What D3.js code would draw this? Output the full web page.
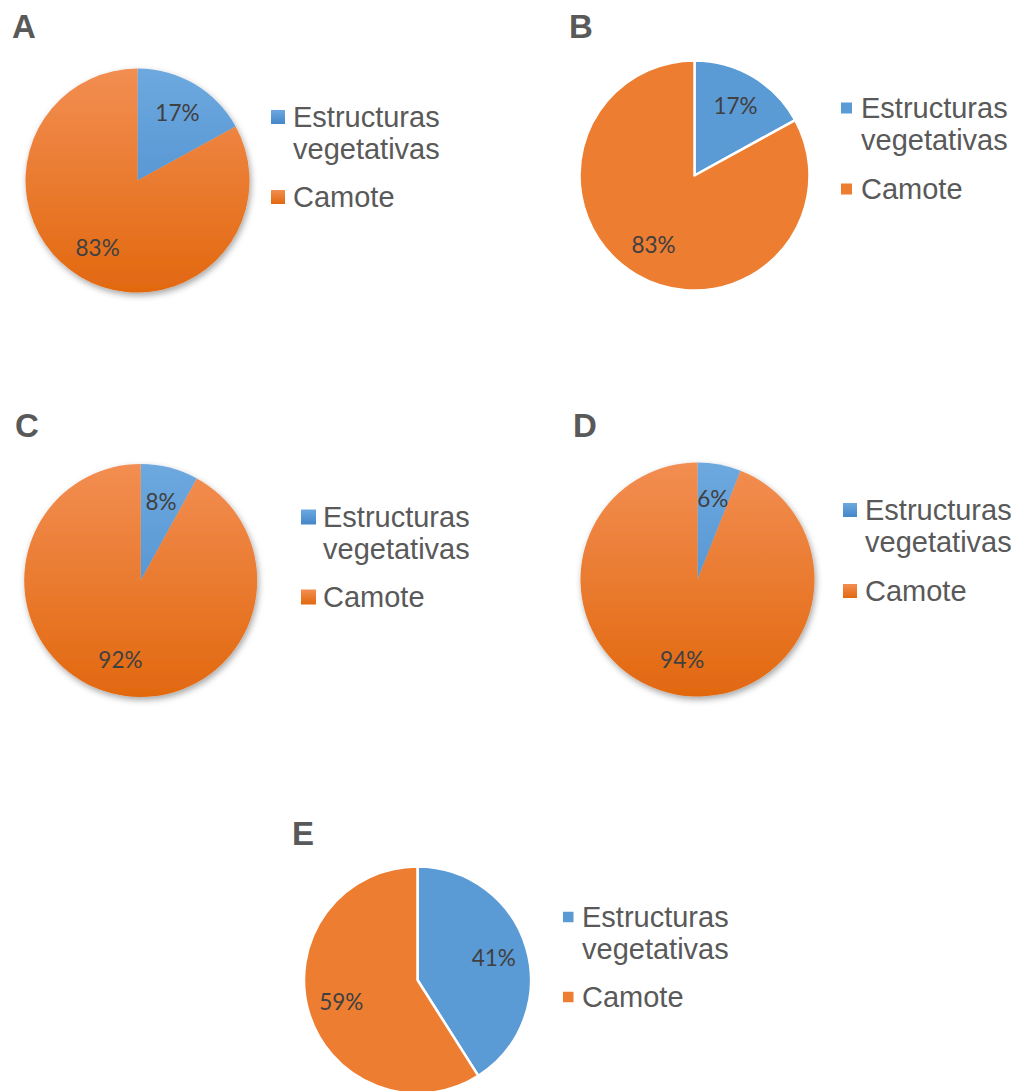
<!DOCTYPE html>
<html>
<head>
<meta charset="utf-8">
<script src="https://cdn.jsdelivr.net/npm/d3@7"></script>
<style>
  html, body { margin: 0; padding: 0; background: #ffffff; }
  svg { display: block; }
</style>
</head>
<body>
<script>
// ---------- data ----------
const panelNames = ["A", "B", "C", "D", "E"];
const categories = ["Estructuras vegetativas", "Camote"];
const valuesA = [17, 83];
const valuesB = [17, 83];
const valuesC = [8, 92];
const valuesD = [6, 94];
const valuesE = [41, 59];
const panelValues = [valuesA, valuesB, valuesC, valuesD, valuesE];

// ---------- layout / style ----------
const W = 1018, H = 1091;
const layout = [
  { letter: [12, 38], cx: 137.5, cy: 180.5, r: 112, gradient: true,
    legX: 271, legTextX: 293, legY: 127, legSq: 14, legGap: 80 },
  { letter: [569, 38], cx: 694.5, cy: 175.5, r: 115, gradient: false,
    legX: 841, legTextX: 861, legY: 118, legSq: 11, legGap: 81 },
  { letter: [15, 437], cx: 140.7, cy: 580.5, r: 116.5, gradient: true,
    legX: 301, legTextX: 323, legY: 527, legSq: 15, legGap: 80 },
  { letter: [573, 437], cx: 697.5, cy: 579.5, r: 117, gradient: true,
    legX: 843, legTextX: 865, legY: 520, legSq: 14, legGap: 81 },
  { letter: [292, 845], cx: 417.5, cy: 980, r: 113.5, gradient: false,
    legX: 563, legTextX: 582, legY: 927, legSq: 10.5, legGap: 80 }
];
const flatColors = ["#5B9BD5", "#ED7D31"];
const gradColors = [["#6DA9DF", "#4586CA"], ["#F28E52", "#E2680F"]];
const textColor = "#595959";
const labelColor = "#404040";

const svg = d3.select("body").append("svg")
  .attr("width", W).attr("height", H)
  .attr("viewBox", `0 0 ${W} ${H}`);

const defs = svg.append("defs");
const shadow = defs.append("filter").attr("id", "shadow")
  .attr("x", "-20%").attr("y", "-20%").attr("width", "140%").attr("height", "140%");
shadow.append("feDropShadow")
  .attr("dx", 1.5).attr("dy", 3).attr("stdDeviation", 3)
  .attr("flood-color", "#000").attr("flood-opacity", 0.35);

// bounding-box gradients for legend swatches
gradColors.forEach((gc, ci) => {
  const lg = defs.append("linearGradient").attr("id", `legGrad-${ci}`)
    .attr("x1", 0).attr("x2", 0).attr("y1", 0).attr("y2", 1);
  lg.append("stop").attr("offset", "0%").attr("stop-color", gc[0]);
  lg.append("stop").attr("offset", "100%").attr("stop-color", gc[1]);
});

const pie = d3.pie().sort(null).value(d => d);
const colorScale = d3.scaleOrdinal().domain(categories).range(flatColors);

panelValues.forEach((vals, pi) => {
  const L = layout[pi];
  const g = svg.append("g");

  // panel letter
  g.append("text")
    .attr("x", L.letter[0]).attr("y", L.letter[1])
    .attr("font-family", "'Liberation Sans', Arial, sans-serif")
    .attr("font-weight", "bold").attr("font-size", 33)
    .attr("fill", textColor)
    .text(panelNames[pi]);

  // gradients (user space of the translated pie group: centred on 0,0)
  const fills = categories.map((c, ci) => {
    if (!L.gradient) return colorScale(c);
    const id = `grad-${pi}-${ci}`;
    const lg = defs.append("linearGradient").attr("id", id)
      .attr("gradientUnits", "userSpaceOnUse")
      .attr("x1", 0).attr("x2", 0)
      .attr("y1", -L.r).attr("y2", L.r);
    lg.append("stop").attr("offset", "0%").attr("stop-color", gradColors[ci][0]);
    lg.append("stop").attr("offset", "100%").attr("stop-color", gradColors[ci][1]);
    return `url(#${id})`;
  });
  const legFills = categories.map((c, ci) =>
    L.gradient ? `url(#legGrad-${ci})` : colorScale(c));

  const arc = d3.arc().innerRadius(0).outerRadius(L.r);
  const labelArc = d3.arc().innerRadius(L.r * 0.7).outerRadius(L.r * 0.7);
  const arcs = pie(vals);
  const total = d3.sum(vals);

  const pg = g.append("g").attr("transform", `translate(${L.cx},${L.cy})`);
  const slices = pg.append("g");
  if (L.gradient) slices.attr("filter", "url(#shadow)");
  slices.selectAll("path").data(arcs).enter().append("path")
    .attr("d", arc)
    .attr("fill", (d, i) => fills[i])
    .attr("stroke", L.gradient ? "none" : "#ffffff")
    .attr("stroke-width", L.gradient ? 0 : 2.5)
    .attr("stroke-linejoin", "round");

  pg.selectAll("text.lbl").data(arcs).enter().append("text")
    .attr("class", "lbl")
    .attr("transform", d => `translate(${labelArc.centroid(d)})`)
    .attr("text-anchor", "middle")
    .attr("dy", "0.36em")
    .attr("font-family", "Lato, 'Open Sans', sans-serif")
    .attr("font-size", 22.5)
    .attr("fill", labelColor)
    .text(d => d3.format(".0%")(d.data / total));

  // legend
  const lineH = 32;
  let y = L.legY;
  categories.forEach((c, ci) => {
    const t = g.append("text")
      .attr("x", L.legTextX).attr("y", y)
      .attr("font-family", "'Liberation Sans', Arial, sans-serif")
      .attr("font-size", 29)
      .attr("fill", textColor);
    // simple word wrap at ~155px
    const words = c.split(" ");
    let line = [];
    let tspan = t.append("tspan").attr("x", L.legTextX).attr("y", y);
    let nLines = 1;
    words.forEach(w => {
      line.push(w);
      tspan.text(line.join(" "));
      if (tspan.node().getComputedTextLength() > 155 && line.length > 1) {
        line.pop();
        tspan.text(line.join(" "));
        line = [w];
        tspan = t.append("tspan").attr("x", L.legTextX)
          .attr("y", y + nLines * lineH).text(w);
        nLines++;
      }
    });
    g.append("rect")
      .attr("x", L.legX)
      .attr("y", y - 10 - L.legSq / 2)
      .attr("width", L.legSq).attr("height", L.legSq)
      .attr("fill", legFills[ci]);
    y += L.legGap;
  });
});
</script>
</body>
</html>
